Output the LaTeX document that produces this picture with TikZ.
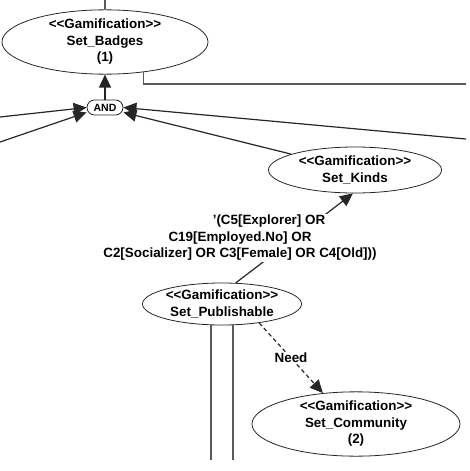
\documentclass[tikz,border=0pt]{standalone}
\usepackage{fontspec}
\setmainfont{Liberation Sans}
\usetikzlibrary{shapes.geometric,arrows.meta}

\begin{document}
\begin{tikzpicture}
  [x=1pt,y=-1pt,font=\fontsize{13.4}{16.5}\selectfont\bfseries,
   usecase/.style={ellipse,draw=black!85,line width=.8pt,inner sep=0pt,align=center},
   opbox/.style={draw=black!85,line width=.8pt,rounded corners=7.5pt,minimum width=36pt,minimum height=15pt,inner sep=0pt,font=\fontsize{10.5}{12}\selectfont\bfseries},
   link/.style={draw=black!85,line width=1.2pt,-{Triangle[length=13pt,width=12pt]}},
   wire/.style={draw=black!65,line width=1.2pt}]
  \useasboundingbox (0,0) rectangle (469,471);

  \node [usecase,minimum width=206pt,minimum height=58pt] (badges) at (105,42) {<{}<Gamification>{}>\\Set\_Badges\\(1)};
  \node [usecase,minimum width=173pt,minimum height=46pt] (kinds) at (355,170) {<{}<Gamification>{}>\\Set\_Kinds};
  \node [usecase,minimum width=148pt,minimum height=42pt] (pub) at (222,304) {<{}<Gamification>{}>\\Set\_Publishable};
  \node [usecase,minimum width=208pt,minimum height=61pt] (comm) at (356,424) {<{}<Gamification>{}>\\Set\_Community\\(2)};
  \node [opbox] (and) at (105,107.5) {AND};

  \coordinate (up) at (105,0);
  \coordinate (east) at (466,84);
  \coordinate (l1) at (0,117);
  \coordinate (l2) at (0,142);
  \coordinate (r1) at (466,139);
  \coordinate (v1) at (211,460);
  \coordinate (v2) at (233,460);

  \draw [wire] (badges) -- (up);
  \draw [wire] (badges.-38) |- (east);
  \draw [wire] (v1 |- pub.south) -- (v1);
  \draw [wire] (v2 |- pub.south) -- (v2);

  \draw [link] (and) -- (badges);
  \foreach \from/\to in {l1/and.west,l2/and.195,r1/and.east,kinds/and.-15}
    \draw [link] (\from) -- (\to);

  \draw [link] (pub.57) -- (kinds.-95);
  \node [fill=white,align=center,inner sep=1pt] (cond) at (240,238)
    {\hspace*{58pt}'(C5[Explorer] OR\\C19[Employed.No] OR\\C2[Socializer] OR C3[Female] OR C4[Old]))};

  \draw [link,dash pattern=on 4pt off 3pt] (pub.-27) -- node [fill=white,inner sep=1pt] (need) {Need} (comm.137);

\end{tikzpicture}
\end{document}
